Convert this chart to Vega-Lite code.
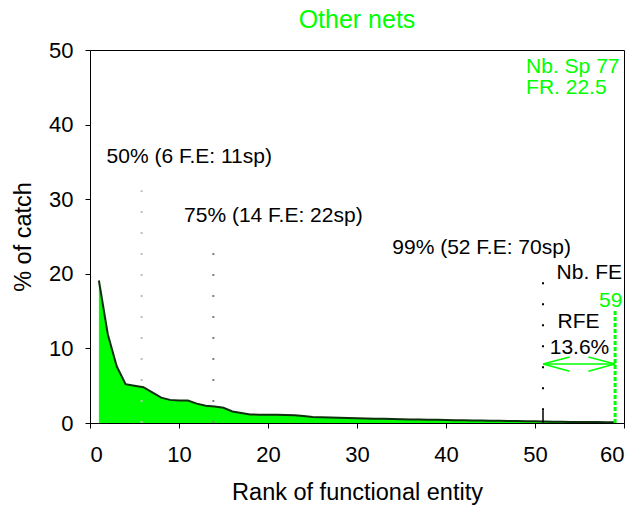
{
  "$schema": "https://vega.github.io/schema/vega-lite/v6.json",
  "autosize": "none",
  "width": 534,
  "height": 373,
  "padding": {"left": 90, "top": 50, "right": 14, "bottom": 85},
  "background": "white",
  "title": {"text": "Other nets", "color": "#00ff00", "fontSize": 25, "fontWeight": "normal", "anchor": "middle", "offset": 6, "font": "Liberation Sans"},
  "config": {
    "font": "Liberation Sans",
    "view": {"stroke": "black", "strokeWidth": 1},
    "axis": {"grid": false, "domainColor": "black", "tickColor": "black", "labelColor": "black", "titleColor": "black", "labelFontSize": 22, "titleFontSize": 23.5, "titleFontWeight": "normal", "tickSize": 5, "labelFont": "Liberation Sans", "titleFont": "Liberation Sans"}
  },
  "datasets": {
    "curve": [
      {"rank": 1, "pct": 19.1}, {"rank": 2, "pct": 11.9}, {"rank": 3, "pct": 7.6}, {"rank": 4, "pct": 5.2},
      {"rank": 5, "pct": 5.0}, {"rank": 6, "pct": 4.8}, {"rank": 7, "pct": 4.1}, {"rank": 8, "pct": 3.4},
      {"rank": 9, "pct": 3.1}, {"rank": 10, "pct": 3.0}, {"rank": 11, "pct": 3.0}, {"rank": 12, "pct": 2.6},
      {"rank": 13, "pct": 2.3}, {"rank": 14, "pct": 2.2}, {"rank": 15, "pct": 2.05}, {"rank": 16, "pct": 1.55},
      {"rank": 17, "pct": 1.35}, {"rank": 18, "pct": 1.15}, {"rank": 19, "pct": 1.12}, {"rank": 20, "pct": 1.1},
      {"rank": 21, "pct": 1.1}, {"rank": 22, "pct": 1.08}, {"rank": 23, "pct": 1.05}, {"rank": 24, "pct": 0.95},
      {"rank": 25, "pct": 0.8}, {"rank": 26, "pct": 0.78}, {"rank": 27, "pct": 0.75}, {"rank": 28, "pct": 0.72},
      {"rank": 29, "pct": 0.68}, {"rank": 30, "pct": 0.63}, {"rank": 31, "pct": 0.6}, {"rank": 32, "pct": 0.58},
      {"rank": 33, "pct": 0.56}, {"rank": 34, "pct": 0.53}, {"rank": 35, "pct": 0.5}, {"rank": 36, "pct": 0.48},
      {"rank": 37, "pct": 0.46}, {"rank": 38, "pct": 0.44}, {"rank": 39, "pct": 0.42}, {"rank": 40, "pct": 0.4},
      {"rank": 41, "pct": 0.38}, {"rank": 42, "pct": 0.36}, {"rank": 43, "pct": 0.34}, {"rank": 44, "pct": 0.32},
      {"rank": 45, "pct": 0.31}, {"rank": 46, "pct": 0.3}, {"rank": 47, "pct": 0.28}, {"rank": 48, "pct": 0.26},
      {"rank": 49, "pct": 0.24}, {"rank": 50, "pct": 0.22}, {"rank": 51, "pct": 0.2}, {"rank": 52, "pct": 0.18},
      {"rank": 53, "pct": 0.16}, {"rank": 54, "pct": 0.15}, {"rank": 55, "pct": 0.14}, {"rank": 56, "pct": 0.13},
      {"rank": 57, "pct": 0.12}, {"rank": 58, "pct": 0.11}, {"rank": 59, "pct": 0.1}
    ],
    "thresholds": [
      {"level": "50%", "rank": 5.8, "bottom": 0, "top": 31.2},
      {"level": "75%", "rank": 13.86, "bottom": 0, "top": 23.55},
      {"level": "99%", "rank": 50.9, "bottom": 1.7, "top": 19.8}
    ],
    "solid": [
      {"rank": 50.9, "bottom": 0, "top": 1.7}
    ],
    "nbfe": [
      {"rank": 59, "bottom": 0, "top": 15.1}
    ],
    "arrow": [
      {"x": 50.9, "x2": 59, "y": 7.9, "y2": 7.9},
      {"x": 50.9, "x2": 53.9, "y": 7.9, "y2": 8.85},
      {"x": 50.9, "x2": 53.9, "y": 7.9, "y2": 6.95},
      {"x": 59, "x2": 56.0, "y": 7.9, "y2": 8.85},
      {"x": 59, "x2": 56.0, "y": 7.9, "y2": 6.95}
    ],
    "blacklabels": [
      {"x": 11.15, "y": 35.6, "label": "50% (6 F.E: 11sp)"},
      {"x": 20.6, "y": 27.8, "label": "75% (14 F.E: 22sp)"},
      {"x": 44.0, "y": 23.4, "label": "99% (52 F.E: 70sp)"},
      {"x": 56.1, "y": 20.1, "label": "Nb. FE"},
      {"x": 54.9, "y": 13.6, "label": "RFE"},
      {"x": 55.0, "y": 10.1, "label": "13.6%"}
    ],
    "greenlabels": [
      {"x": 58.5, "y": 16.3, "label": "59"}
    ],
    "infolabels": [
      {"x": 49.0, "y": 47.75, "label": "Nb. Sp 77"},
      {"x": 49.0, "y": 44.9, "label": "FR. 22.5"}
    ]
  },
  "layer": [
    {
      "data": {"name": "curve"},
      "mark": {"type": "area", "color": "#00ff00", "opacity": 1, "line": {"color": "#0f300f", "strokeWidth": 2}},
      "encoding": {
        "x": {"field": "rank", "type": "quantitative", "scale": {"domain": [0, 60], "nice": false}, "axis": {"values": [0, 10, 20, 30, 40, 50, 60], "title": "Rank of functional entity", "labelPadding": 16, "titlePadding": 15}},
        "y": {"field": "pct", "type": "quantitative", "scale": {"domain": [0, 50], "nice": false}, "axis": {"values": [0, 10, 20, 30, 40, 50], "title": "% of catch", "labelPadding": 12, "titlePadding": 13}}
      }
    },
    {
      "data": {"name": "thresholds"},
      "mark": {"type": "rule", "strokeWidth": 2, "strokeDash": [2, 19]},
      "encoding": {
        "x": {"field": "rank", "type": "quantitative"},
        "y": {"field": "bottom", "type": "quantitative"},
        "y2": {"field": "top"},
        "color": {"field": "level", "type": "nominal", "scale": {"domain": ["50%", "75%", "99%"], "range": ["#bdbdbd", "#808080", "#000000"]}, "legend": null}
      }
    },
    {
      "data": {"name": "solid"},
      "mark": {"type": "rule", "strokeWidth": 1.5, "color": "black"},
      "encoding": {
        "x": {"field": "rank", "type": "quantitative"},
        "y": {"field": "bottom", "type": "quantitative"},
        "y2": {"field": "top"}
      }
    },
    {
      "data": {"name": "nbfe"},
      "mark": {"type": "rule", "strokeWidth": 3, "color": "#00ff00", "strokeDash": [4, 2]},
      "encoding": {
        "x": {"field": "rank", "type": "quantitative"},
        "y": {"field": "bottom", "type": "quantitative"},
        "y2": {"field": "top"}
      }
    },
    {
      "data": {"name": "arrow"},
      "mark": {"type": "rule", "strokeWidth": 1.5, "color": "#00ff00"},
      "encoding": {
        "x": {"field": "x", "type": "quantitative"},
        "x2": {"field": "x2"},
        "y": {"field": "y", "type": "quantitative"},
        "y2": {"field": "y2"}
      }
    },
    {
      "data": {"name": "blacklabels"},
      "mark": {"type": "text", "fontSize": 21, "color": "black", "align": "center", "baseline": "middle"},
      "encoding": {
        "x": {"field": "x", "type": "quantitative"},
        "y": {"field": "y", "type": "quantitative"},
        "text": {"field": "label"}
      }
    },
    {
      "data": {"name": "greenlabels"},
      "mark": {"type": "text", "fontSize": 21, "color": "#00ff00", "align": "center", "baseline": "middle"},
      "encoding": {
        "x": {"field": "x", "type": "quantitative"},
        "y": {"field": "y", "type": "quantitative"},
        "text": {"field": "label"}
      }
    },
    {
      "data": {"name": "infolabels"},
      "mark": {"type": "text", "fontSize": 21, "color": "#00ff00", "align": "left", "baseline": "middle"},
      "encoding": {
        "x": {"field": "x", "type": "quantitative"},
        "y": {"field": "y", "type": "quantitative"},
        "text": {"field": "label"}
      }
    }
  ]
}
